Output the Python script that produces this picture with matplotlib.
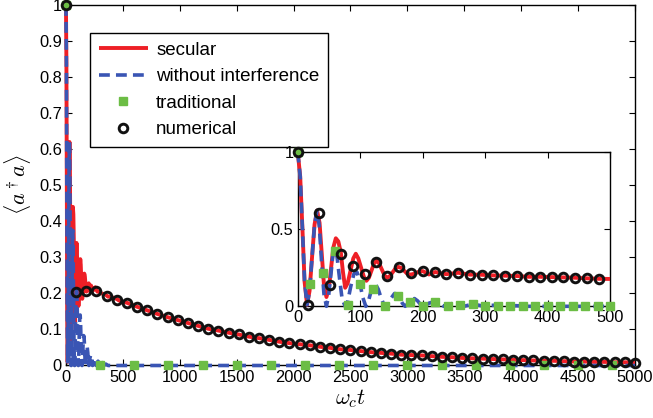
import numpy as np
import matplotlib
matplotlib.use("Agg")
import matplotlib.pyplot as plt

plt.rcParams['font.family'] = ['Liberation Sans', 'DejaVu Sans']
plt.rcParams['mathtext.fontset'] = 'cm'
plt.rcParams['font.size'] = 12

# secular approximation (dense near t=0 where it oscillates)
t_sec = [0, 4, 8, 11, 15, 19, 23, 27, 31, 35, 38.5, 42, 46, 50, 53.5, 57, 61, 65, 69,
         72.5, 76, 80, 84.5, 89, 93, 97, 101.5, 106, 110, 114, 118, 122, 126, 130, 134.5,
         139, 143, 147.5, 152, 156.5, 161, 166, 170.5, 175, 180, 185, 190, 195, 200, 205,
         210, 215, 220, 229, 238, 247, 257, 276, 295, 313, 332, 351, 369.5, 388, 407, 425.5,
         444, 463, 482, 500, 536, 625, 714, 804, 893, 982, 1071, 1161, 1250, 1339, 1429,
         1518, 1607, 1696, 1786, 1875, 1964, 2054, 2143, 2232, 2321, 2411, 2500, 2589, 2679,
         2768, 2857, 2946, 3036, 3125, 3214, 3304, 3393, 3482, 3571, 3661, 3750, 3839, 3929,
         4018, 4107, 4196, 4286, 4375, 4464, 4554, 4643, 4732, 4821, 4911, 5000]
v_sec = [1.0, 0.84, 0.46, 0.16, 0.01, 0.10, 0.32, 0.53, 0.62, 0.54, 0.34, 0.14, 0.06, 0.12,
         0.25, 0.38, 0.44, 0.42, 0.35, 0.22, 0.12, 0.15, 0.23, 0.31, 0.34, 0.31, 0.25, 0.19,
         0.165, 0.185, 0.23, 0.275, 0.295, 0.28, 0.24, 0.20, 0.185, 0.195, 0.22, 0.245, 0.255,
         0.248, 0.23, 0.212, 0.205, 0.209, 0.217, 0.225, 0.228, 0.218, 0.206, 0.212, 0.222,
         0.214, 0.208, 0.212, 0.217, 0.205, 0.204, 0.200, 0.198, 0.196, 0.191, 0.191, 0.189,
         0.187, 0.185, 0.181, 0.178, 0.177, 0.174, 0.163, 0.153, 0.143, 0.134, 0.126, 0.118,
         0.110, 0.102, 0.097, 0.091, 0.086, 0.080, 0.076, 0.071, 0.066, 0.062, 0.059, 0.056,
         0.052, 0.049, 0.045, 0.043, 0.040, 0.037, 0.035, 0.033, 0.030, 0.029, 0.028, 0.026,
         0.024, 0.023, 0.021, 0.020, 0.019, 0.018, 0.017, 0.016, 0.015, 0.014, 0.013, 0.013,
         0.012, 0.011, 0.011, 0.010, 0.010, 0.009, 0.009, 0.008]

# without interference
t_noint = [0, 4, 8, 11, 15, 19, 23, 27, 31, 34.5, 38, 42, 46, 49.5, 53, 56, 59, 63, 67, 71,
           76, 80, 85, 90, 95, 99.5, 104, 109, 113, 117, 121, 125, 129, 133, 137, 141, 145.5,
           150, 155, 159, 163, 167.5, 172, 177, 182, 187, 192, 197, 202, 210, 218, 226, 234,
           242, 250, 258, 266, 274, 282, 290, 298, 310, 320, 332, 350, 370, 500, 5000]
v_noint = [1.0, 0.84, 0.46, 0.16, 0.01, 0.10, 0.32, 0.53, 0.62, 0.52, 0.30, 0.08, 0.0, 0.07,
           0.20, 0.32, 0.375, 0.32, 0.18, 0.05, 0.0, 0.03, 0.13, 0.21, 0.22, 0.15, 0.06, 0.0,
           0.03, 0.09, 0.13, 0.14, 0.11, 0.06, 0.02, 0.0, 0.02, 0.055, 0.083, 0.08, 0.055, 0.02,
           0.0, 0.02, 0.045, 0.05, 0.035, 0.01, 0.0, 0.02, 0.03, 0.02, 0.0, 0.013, 0.02, 0.012,
           0.0, 0.008, 0.012, 0.007, 0.0, 0.006, 0.008, 0.0, 0.004, 0.0, 0.0, 0.0]

# traditional (master equation), sampled
t_trad_main = [0, 300, 600, 900, 1200, 1500, 1800, 2100, 2400, 2700, 3000, 3300, 3600,
               3900, 4200, 4500, 4800]
v_trad_main = [1.0] + [0.0] * 16
t_trad_in = list(range(0, 501, 20))
v_trad_in = [1.0, 0.142, 0.217, 0.357, 0.008, 0.142, 0.11, 0.0, 0.068, 0.026, 0.0, 0.03,
             0.0, 0.01, 0.015, 0.0] + [0.0] * 10

# numerical solution
t_num_main = np.linspace(0, 5000, 57)
v_num_main = [1.0, 0.205, 0.208, 0.206, 0.193, 0.183, 0.174, 0.163, 0.153, 0.143, 0.134,
              0.126, 0.118, 0.110, 0.102, 0.097, 0.091, 0.086, 0.080, 0.076, 0.071, 0.066,
              0.062, 0.059, 0.056, 0.052, 0.049, 0.045, 0.043, 0.040, 0.037, 0.035, 0.033,
              0.030, 0.029, 0.028, 0.026, 0.024, 0.023, 0.021, 0.020, 0.019, 0.018, 0.017,
              0.016, 0.015, 0.014, 0.013, 0.013, 0.012, 0.011, 0.011, 0.010, 0.010, 0.009,
              0.009, 0.008]
t_num_in = [0, 16.5, 33.5, 51, 70, 88, 107, 125.5, 143.5, 162.5, 182, 201, 219.5, 238, 257,
            276, 295, 313, 332, 351, 369.5, 388, 407, 425.5, 444, 463, 482]
v_num_in = [1.0, 0.01, 0.605, 0.138, 0.338, 0.26, 0.209, 0.288, 0.196, 0.256, 0.213, 0.228,
            0.222, 0.21, 0.218, 0.205, 0.204, 0.2, 0.198, 0.196, 0.191, 0.191, 0.189, 0.187,
            0.185, 0.181, 0.178]

red = '#ee1f26'
blue = '#3a55b4'
green = '#6cbd45'

sec_kw = dict(color=red, lw=2.8, solid_capstyle='butt', clip_on=False, zorder=3)
noint_kw = dict(color=blue, lw=2.6, dashes=(3.0, 1.7), clip_on=False, zorder=4)
trad_kw = dict(ls='none', marker='s', ms=5.6, mfc=green, mec=green, clip_on=False, zorder=5)
num_kw = dict(ls='none', marker='o', ms=6.2, mfc='none', mec='#111111', mew=2.1,
              clip_on=False, zorder=6)


def style_axes(ax):
    ax.tick_params(direction='in', top=True, right=True, length=4, width=0.8, pad=3,
                   labelsize=11.8)
    for s in ax.spines.values():
        s.set_linewidth(1.0)


fig = plt.figure(figsize=(6.53, 4.18), dpi=100)
ax = fig.add_axes([0.101, 0.1256, 0.8714, 0.8624])

ax.plot(t_sec, v_sec, label='secular', **sec_kw)
ax.plot(t_noint, v_noint, label='without interference', **noint_kw)
ax.plot(t_trad_main, v_trad_main, label='traditional', **trad_kw)
ax.plot(t_num_main, v_num_main, label='numerical', **num_kw)

ax.set_xlim(0, 5000)
ax.set_ylim(0, 1)
ax.set_xticks(np.arange(0, 5001, 500))
ax.set_yticks(np.arange(0, 1.01, 0.1))
ax.set_yticklabels(['0', '0.1', '0.2', '0.3', '0.4', '0.5', '0.6', '0.7', '0.8', '0.9', '1'])
ax.set_xlabel(r'$\omega_c t$', fontsize=16, labelpad=2)
ax.set_ylabel(r'$\langle a^\dagger a\rangle$', fontsize=16, labelpad=4)
style_axes(ax)

leg = ax.legend(loc='upper left', bbox_to_anchor=(0.043, 0.922), borderaxespad=0,
                fancybox=False, edgecolor='black', framealpha=1, handlelength=2.6,
                handletextpad=0.45, labelspacing=0.5, borderpad=0.45, fontsize=13.5)
leg.get_frame().set_linewidth(1.0)

# zoom on the early oscillations
ins = fig.add_axes([0.4559, 0.2672, 0.4783, 0.3698])


def upto(t, v, tmax=500):
    t = np.asarray(t, dtype=float)
    v = np.asarray(v, dtype=float)
    m = t <= tmax
    return t[m], v[m]


ins.plot(*upto(t_sec, v_sec), **sec_kw)
ins.plot(*upto(t_noint, v_noint), **noint_kw)
ins.plot(*upto(t_trad_in, v_trad_in), **trad_kw)
ins.plot(*upto(t_num_in, v_num_in), **num_kw)
ins.set_xlim(0, 500)
ins.set_ylim(0, 1)
ins.set_xticks(np.arange(0, 501, 100))
ins.set_yticks([0, 0.5, 1])
ins.set_yticklabels(['0', '0.5', '1'])
style_axes(ins)

fig.savefig('out.png', dpi=100)
